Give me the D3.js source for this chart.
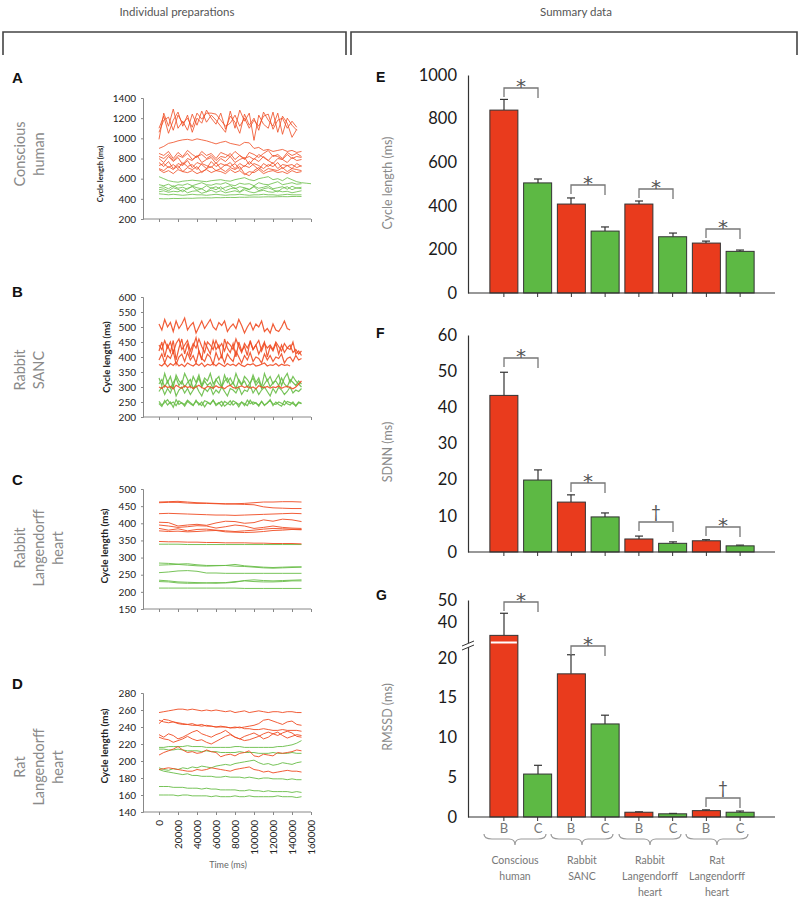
<!DOCTYPE html>
<html>
<head>
<meta charset="utf-8">
<script src="https://cdn.jsdelivr.net/npm/d3@7"></script>
<style>
  body { margin: 0; background: #fff; }
  svg { display: block; font-family: Lato, 'Open Sans', sans-serif; }
</style>
</head>
<body>
<div id="canvas"></div>
<script>
// ---------- individual preparations (cycle length traces, ms) ----------
var tA = [0,5000,10000,15000,20000,25000,30000,35000,40000,45000,50000,55000,60000,65000,70000,75000,80000,85000,90000,95000,100000,105000,110000,115000,120000,125000,130000,135000,140000,145000,150000,155000,160000]
var tB = [0,3000,6000,9000,12000,15000,18000,21000,24000,27000,30000,33000,36000,39000,42000,45000,48000,51000,54000,57000,60000,63000,66000,69000,72000,75000,78000,81000,84000,87000,90000,93000,96000,99000,102000,105000,108000,111000,114000,117000,120000,123000,126000,129000,132000,135000,138000,141000,144000,147000,150000]
var tC = [0,10000,20000,30000,40000,50000,60000,70000,80000,90000,100000,110000,120000,130000,140000,150000]
var tD = tA

var aRed = [
  [990,1250,1120,1290,1100,1170,1080,1240,1130,1270,1160,1230,1180,1120,1060,1270,1100,1280,1170,1250,980,1230,1140,1100,1260,1060,1220,1150,1010,1090],
  [1060,1180,1210,1080,1230,1150,1200,1110,1250,1190,1250,1250,1240,1180,1120,1150,1230,1120,1200,1100,1180,1120,1220,1240,1090,1180,1200,1100,1170,1110],
  [1100,1220,1050,1180,1260,1120,1230,1060,1200,1150,1280,1200,1140,1250,1090,1220,1160,1050,1240,1130,1200,1080,1260,1180,1120,1250,1040,1200,1130,1080],
  [900,920,950,960,975,985,990,980,995,985,975,960,945,960,970,950,940,930,960,955,900,910,880,890,870,880,890,870,880,860,870],
  [850,830,870,800,860,820,880,840,810,870,830,850,800,860,840,820,870,830,790,860,840,810,850,880,820,840,800,860,830,850,820],
  [820,800,840,780,830,810,850,790,820,840,800,830,780,820,810,850,790,830,800,820,790,840,810,780,830,820,790,840,800,820,810],
  [800,760,820,770,810,740,800,780,830,760,790,810,750,800,770,820,760,790,810,740,800,770,820,780,750,800,790,760,810,780,790],
  [760,720,770,700,750,730,780,710,760,740,700,770,720,750,730,760,700,750,720,770,730,690,750,720,760,700,740,730,700,750,720],
  [730,750,710,740,700,760,720,740,690,750,730,710,760,700,740,720,750,690,730,710,750,730,700,740,720,760,700,730,740,710,730],
  [700,680,720,690,730,670,710,690,720,660,700,720,680,700,670,710,690,720,650,630,680,710,670,700,690,680,710,670,700,690,680],
  [690,660,680,650,690,670,660,680,650,670,690,660,680,670,650,690,660,680,640,670,660,690,650,670,680,660,670,650,680,660,670]
]
var aGreen = [
  [620,600,580,570,565,575,580,585,580,575,570,580,585,590,580,575,590,600,610,590,580,600,610,620,590,600,580,610,590,570,560,555,550],
  [540,530,545,520,540,535,550,530,545,560,540,535,550,545,560,540,530,555,545,550,530,560,545,540,555,570,540,550,560,545,550],
  [510,520,500,530,505,515,495,525,510,500,530,505,520,495,515,530,500,520,510,495,525,505,515,530,500,510,520,495,525,505,515],
  [490,500,480,510,495,470,505,520,485,500,470,510,490,520,480,500,510,470,505,490,520,480,500,510,490,470,505,520,490,510,500],
  [470,480,465,475,470,490,460,475,480,455,470,485,465,480,460,470,480,465,490,470,460,475,485,470,465,480,470,475,460,470,480],
  [450,445,440,445,440,435,440,445,440,440,435,440,445,440,435,440,440,445,440,435,440,440,445,440,440,435,440,445,440,440,440],
  [402,400,401,404,403,405,406,405,408,409,410,409,412,411,413,414,413,416,415,417,418,417,419,420,419,421,422,421,423,424,423]
]

var bRed = [
  [510,490,525,500,515,485,520,495,510,530,490,505,515,480,500,520,495,510,525,500,490,515,505,520,485,500,510,495,525,505,480,500,515,490,510,500,520,485,495,480,510,490,485,500,520,495,490],
  [420,450,400,440,415,455,390,430,460,410,445,400,435,465,420,390,450,430,410,455,425,440,395,460,430,415,445,400,450,420,435,405,455,425,440,410,430,450,400,435,420,445,410,440,415,430,425,450,410,420,405],
  [440,425,455,430,450,415,445,460,425,440,455,420,445,430,460,435,415,450,440,425,455,430,445,420,450,440,425,460,435,415,445,430,450,425,440,455,420,445,430,440,425,450,435,420,445,430,440,415,425,410,420],
  [390,410,380,405,395,420,375,400,410,385,415,390,405,380,420,395,385,410,400,375,415,390,405,380,410,395,385,420,400,380,405,390,415,385,400,395,380,410,390,405,385,400,395,410,380,395,400,385,405,390,395],
  [375,370,380,368,378,372,382,370,376,368,380,374,370,378,372,380,368,376,372,378,370,380,374,368,378,372,376,370,380,372,368,376,374,378,370,372,376,380,370,374,372,378,370,376,372,374,370],
  [300,295,305,298,302,294,306,300,296,304,298,302,295,300,306,298,294,302,300,296,304,298,300,294,302,306,298,296,300,304,298,302,296,300,294,304,300,298,302,296,300,298,304,296,300,302,298,294,300,310,320]
]
var bGreen = [
  [330,305,345,315,335,300,340,320,310,345,325,300,335,315,340,305,330,320,345,310,325,335,300,340,315,330,310,345,320,305,335,325,310,340,315,330,300,345,320,335,310,325,340,305,330,345,315,335,320,310,300],
  [310,325,300,320,295,315,330,305,320,300,315,325,295,310,330,300,320,305,315,295,325,310,300,320,330,305,315,295,325,310,320,300,315,330,305,320,295,310,325,300,315,320,305,330,310,300,325,315,305,320,310],
  [285,300,275,295,280,305,270,290,300,280,295,275,290,305,285,270,295,285,300,275,290,280,300,285,270,295,290,280,300,275,290,285,305,280,295,275,290,300,285,270,295,280,300,290,275,285,300,280,290,285,295],
  [245,235,255,240,250,232,258,242,248,236,252,244,238,256,240,250,234,248,242,256,238,246,252,236,244,254,240,248,234,250,244,238,256,242,248,236,252,240,246,258,238,250,242,236,254,244,240,250,236,248,244],
  [252,240,248,258,244,250,238,254,246,242,256,248,240,252,246,238,254,250,244,256,242,248,236,252,246,240,254,248,242,250,238,256,244,250,246,240,252,238,248,254,244,242,250,246,240,252,248,244,238,250,246]
]

var cRed = [
  [462,463,464,462,460,459,458,457,457,458,460,462,462,463,463,462],
  [460,461,461,459,458,458,457,456,456,455,454,448,445,444,443,443],
  [428,429,428,427,426,425,424,424,423,424,425,426,427,428,429,428],
  [403,402,392,395,397,394,401,406,405,400,402,410,406,412,410,405],
  [395,392,388,390,393,392,386,390,395,392,385,388,392,388,386,385],
  [385,380,384,378,382,383,380,378,376,378,380,383,385,384,383,382],
  [378,376,377,375,376,378,379,375,374,373,374,376,379,380,382,381],
  [347,346,346,345,345,344,344,343,343,343,342,342,341,341,341,340]
]
var cGreen = [
  [339,339,339,338,338,338,338,338,338,338,338,338,338,338,338,338],
  [284,283,281,282,279,277,277,277,280,276,274,272,271,272,273,273],
  [278,279,280,278,276,275,276,277,275,274,272,270,269,270,271,272],
  [256,258,261,262,260,255,255,254,254,254,254,254,254,254,254,254],
  [234,232,229,228,227,226,227,226,228,233,235,233,232,233,234,235],
  [230,229,226,225,225,226,225,227,230,232,230,229,229,230,232,232],
  [211,211,211,211,211,211,211,211,211,210,210,210,210,210,210,210]
]

var dRed = [
  [257,258,259,260,261,261,260,261,260,259,260,259,260,259,258,259,257,258,259,257,258,259,258,257,258,258,257,258,258,257,257],
  [248,246,245,246,244,243,243,242,242,243,241,241,240,240,240,239,239,240,238,238,237,237,238,237,236,236,237,236,236,236,235],
  [244,249,248,246,245,244,243,244,242,241,242,241,240,241,240,239,240,239,240,241,242,244,248,249,247,245,243,246,247,243,242],
  [231,228,232,230,226,228,231,234,236,232,230,228,231,233,236,232,228,226,229,231,233,230,226,228,232,234,230,227,229,231,230],
  [228,226,225,222,224,226,229,226,224,225,222,220,223,226,229,231,228,226,224,225,227,229,232,234,232,230,233,235,233,229,228],
  [207,210,212,214,217,213,210,211,209,210,213,211,210,205,207,208,206,209,210,212,206,205,208,207,206,210,209,210,211,213,212],
  [190,191,192,191,190,189,188,188,190,189,190,192,191,190,189,188,190,191,192,193,190,189,187,188,186,187,188,189,188,188,187]
]
var dGreen = [
  [216,216,217,217,217,217,218,217,217,217,216,216,216,216,216,216,217,217,216,216,216,216,216,216,216,217,217,218,219,221,224],
  [214,214,213,213,214,213,212,212,212,211,212,211,211,210,210,210,210,211,210,210,210,209,209,209,210,209,209,209,210,209,209],
  [192,190,189,191,190,192,191,193,192,194,193,192,194,195,196,195,197,198,199,200,201,198,196,197,195,196,198,197,196,198,199],
  [190,188,187,186,185,184,185,183,183,182,182,182,181,181,182,181,181,181,180,181,180,179,180,180,179,179,179,178,179,178,178],
  [170,170,170,169,169,169,168,168,168,167,168,167,167,166,166,166,166,165,165,166,165,165,164,165,164,164,164,164,163,164,163],
  [160,160,160,160,159,160,160,159,159,159,159,158,159,158,158,158,159,158,158,159,158,158,158,158,158,159,158,158,158,157,158]
]

var timeTicks = [0,20000,40000,60000,80000,100000,120000,140000,160000]
var ticksA = [200,400,600,800,1000,1200,1400]
var ticksB = [200,250,300,350,400,450,500,550,600]
var ticksC = [150,200,250,300,350,400,450,500]
var ticksD = [140,160,180,200,220,240,260,280]

// ---------- summary data ----------
var conditions = ['B','C','B','C','B','C','B','C']
var groupNames = [['Conscious','human'],['Rabbit','SANC'],['Rabbit','Langendorff','heart'],['Rat','Langendorff','heart']]
var clMean = [839,505,408,284,408,258,229,191]
var clSem = [49,18,28,19,14,17,9,6]
var sdnnMean = [43.3,19.9,13.8,9.7,3.6,2.4,3.1,1.7]
var sdnnSem = [6.4,2.8,2.0,1.1,0.8,0.4,0.3,0.2]
var rmssdMean = [34,5.4,18.0,11.7,0.6,0.4,0.8,0.6]
var rmssdSem = [10,1.1,2.4,1.1,0.05,0.05,0.1,0.15]
var clSig = [[0,1,'*',940],[2,3,'*',495],[4,5,'*',477],[6,7,'*',294]]
var sdnnSig = [[0,1,'*',53.6],[2,3,'*',19.1],[4,5,'\u2020',8.3],[6,7,'*',6.9]]
var rmssdSig = [[0,1,'*',49.1],[2,3,'*',21.7],[6,7,'\u2020',2.4]]
var ticksE = [0,200,400,600,800,1000]
var ticksF = [0,10,20,30,40,50,60]
var ticksG = [0,5,10,15,20,40,50]

;(function () {
  var RED = '#ef4b22', GREEN = '#68bd47'
  var BAR_RED = '#e93b1d', BAR_GREEN = '#5db944'
  var fmt = d3.format('d')

  var svg = d3.select('#canvas').append('svg')
    .attr('width', 800).attr('height', 900)

  // header
  svg.append('text').text('Individual preparations').attr('x', 177).attr('y', 16)
    .attr('text-anchor', 'middle').attr('font-size', '11.5px').attr('fill', '#555')
  svg.append('text').text('Summary data').attr('x', 576).attr('y', 16)
    .attr('text-anchor', 'middle').attr('font-size', '11.5px').attr('fill', '#555')
  var bracket = function (x1, x2) {
    svg.append('path').attr('d', 'M' + x1 + ',55V32H' + x2 + 'V55')
      .attr('fill', 'none').attr('stroke', '#444').attr('stroke-width', 1.6)
  }
  bracket(3, 346)
  bracket(351, 797)

  var letter = function (t, x, y, size) {
    svg.append('text').text(t).attr('x', x).attr('y', y)
      .attr('font-family', 'Liberation Sans, Arial, sans-serif')
      .attr('font-weight', 'bold').attr('font-size', size).attr('fill', '#111')
  }

  // ---------- left panels ----------
  var xL = d3.scaleLinear().domain([0, 160000]).range([159, 311])
  var AXIS_X = 143

  var leftPanels = [
    {letter: 'A', letterY: 83, rows: ['Conscious', 'human'], rowY: 154, dom: [200, 1400], rng: [219, 98], ticks: ticksA,
      times: tA, red: aRed, green: aGreen, labX: 103, labY: 174, labSize: 7.5, width: 0.9},
    {letter: 'B', letterY: 297, rows: ['Rabbit', 'SANC'], rowY: 370, dom: [200, 600], rng: [417, 297], ticks: ticksB,
      times: tB, red: bRed, green: bGreen, labX: 110, labY: 357, labSize: 9.5, width: 1.2},
    {letter: 'C', letterY: 485, rows: ['Rabbit', 'Langendorff', 'heart'], rowY: 548, dom: [150, 500], rng: [609, 489], ticks: ticksC,
      times: tC, red: cRed, green: cGreen, labX: 108, labY: 546, labSize: 10, width: 1},
    {letter: 'D', letterY: 689, rows: ['Rat', 'Langendorff', 'heart'], rowY: 767, dom: [140, 280], rng: [812, 693], ticks: ticksD,
      times: tD, red: dRed, green: dGreen, labX: 108, labY: 746, labSize: 10, width: 1}
  ]

  leftPanels.forEach(function (p, k) {
    var y = d3.scaleLinear().domain(p.dom).range(p.rng)
    letter(p.letter, 12, p.letterY, '15px')

    p.rows.forEach(function (r, i) {
      svg.append('text').text(r)
        .attr('transform', 'translate(' + (25 + i * 19) + ',' + p.rowY + ') rotate(-90)')
        .attr('text-anchor', 'middle').attr('font-size', '14.5px').attr('fill', '#8a8a8a')
    })

    var g = svg.append('g')
    var line = function (vals) {
      return d3.line()
        .x(function (d, i) { return xL(p.times[i]) })
        .y(function (d) { return y(d) })(vals)
    }
    p.green.forEach(function (vals) {
      g.append('path').attr('d', line(vals)).attr('fill', 'none')
        .attr('stroke', GREEN).attr('stroke-width', p.width).attr('stroke-opacity', 0.9)
    })
    p.red.forEach(function (vals) {
      g.append('path').attr('d', line(vals)).attr('fill', 'none')
        .attr('stroke', RED).attr('stroke-width', p.width).attr('stroke-opacity', 0.9)
    })

    // axes
    var yAx = svg.append('g').attr('transform', 'translate(' + AXIS_X + ',0)')
      .call(d3.axisLeft(y).tickValues(p.ticks).tickSize(2).tickPadding(5).tickFormat(fmt))
    yAx.select('.domain').attr('stroke', '#888')
    yAx.selectAll('.tick line').attr('stroke', '#888')
    yAx.selectAll('text').attr('font-size', '10px').attr('fill', '#222')
      .attr('font-family', 'Lato, sans-serif')

    var xAx = svg.append('g').attr('transform', 'translate(0,' + p.rng[0] + ')')
      .call(d3.axisBottom(xL).tickValues(timeTicks).tickSize(3).tickFormat(''))
    xAx.select('.domain').attr('d', 'M' + AXIS_X + ',0H311').attr('stroke', '#888')
    xAx.selectAll('.tick line').attr('stroke', '#888')

    if (k === 3) {
      xAx.selectAll('.tick').append('text').text(function (d) { return fmt(d) })
        .attr('transform', 'translate(0,8) rotate(-90)')
        .attr('text-anchor', 'end').attr('dy', '0.35em')
        .attr('font-size', '10px').attr('fill', '#222').attr('font-family', 'Lato, sans-serif')
      svg.append('text').text('Time (ms)').attr('x', 228).attr('y', 868)
        .attr('text-anchor', 'middle').attr('font-size', '9px').attr('fill', '#666')
    }

    svg.append('text').text('Cycle length (ms)')
      .attr('transform', 'translate(' + p.labX + ',' + p.labY + ') rotate(-90)')
      .attr('text-anchor', 'middle').attr('font-size', p.labSize + 'px')
      .attr('font-weight', 'bold').attr('fill', '#222')
  })

  // ---------- right panels ----------
  var xB = d3.scaleBand().domain(d3.range(8)).range([487, 757])
    .paddingInner(0.17).paddingOuter(0.085)
  var cx = function (i) { return Math.round(xB(i) + xB.bandwidth() / 2) }

  var rightPanels = [
    {letter: 'E', letterY: 82, label: 'Cycle length (ms)', labY: 183,
      y: d3.scaleLinear().domain([0, 1000]).range([293, 75]), ticks: ticksE,
      mean: clMean, sem: clSem, sig: clSig},
    {letter: 'F', letterY: 338, label: 'SDNN (ms)', labY: 452,
      y: d3.scaleLinear().domain([0, 60]).range([552, 335]), ticks: ticksF,
      mean: sdnnMean, sem: sdnnSem, sig: sdnnSig},
    {letter: 'G', letterY: 600, label: 'RMSSD (ms)', labY: 717,
      y: d3.scaleLinear().domain([0, 21.5, 31, 50]).range([817, 646, 642, 600]), ticks: ticksG,
      mean: rmssdMean, sem: rmssdSem, sig: rmssdSig}
  ]

  rightPanels.forEach(function (p, k) {
    var y = p.y
    var y0 = y(0)
    letter(p.letter, 376, p.letterY, '14px')

    svg.append('text').text(p.label)
      .attr('transform', 'translate(392,' + p.labY + ') rotate(-90)')
      .attr('text-anchor', 'middle').attr('font-size', '12.5px').attr('fill', '#8a8a8a')

    var g = svg.append('g')
    // error bars (upper only)
    p.mean.forEach(function (m, i) {
      var top = y(m + p.sem[i])
      g.append('line').attr('x1', cx(i)).attr('x2', cx(i)).attr('y1', y(m)).attr('y2', top)
        .attr('stroke', '#333').attr('stroke-width', 1.2)
      g.append('line').attr('x1', cx(i) - 4).attr('x2', cx(i) + 4).attr('y1', top).attr('y2', top)
        .attr('stroke', '#333').attr('stroke-width', 1.2)
    })
    g.selectAll('rect.bar').data(p.mean).enter().append('rect')
      .attr('x', function (d, i) { return xB(i) })
      .attr('y', function (d) { return y(d) })
      .attr('width', xB.bandwidth())
      .attr('height', function (d) { return y0 - y(d) })
      .attr('fill', function (d, i) { return i % 2 === 0 ? BAR_RED : BAR_GREEN })
      .attr('stroke', '#333').attr('stroke-width', 1)

    // significance brackets
    p.sig.forEach(function (s) {
      var ly = Math.round(y(s[3]))
      var x1 = cx(s[0]), x2 = cx(s[1])
      g.append('path').attr('d', 'M' + x1 + ',' + (ly + 9) + 'V' + ly + 'H' + x2 + 'V' + (ly + 10))
        .attr('fill', 'none').attr('stroke', '#777').attr('stroke-width', 1.3)
      var star = s[2] === '*'
      g.append('text').text(s[2]).attr('x', (x1 + x2) / 2).attr('y', star ? ly + 5 : ly - 4)
        .attr('text-anchor', 'middle')
        .attr('font-family', star ? 'DejaVu Sans, sans-serif' : 'Lato, sans-serif')
        .attr('font-size', star ? '20px' : '17px')
        .attr('fill', '#555')
    })

    // axes
    var yAx = svg.append('g').attr('transform', 'translate(468,0)')
      .call(d3.axisLeft(y).tickValues(p.ticks).tickSize(0).tickPadding(11).tickFormat(fmt))
    yAx.select('.domain').attr('stroke', '#333').attr('stroke-width', 1.2)
    yAx.selectAll('text').attr('font-size', '16.5px').attr('fill', '#1a1a1a')
      .attr('font-family', 'Lato, sans-serif')

    var xAx = svg.append('g').attr('transform', 'translate(0,' + y0 + ')')
      .call(d3.axisBottom(xB).tickSize(4).tickFormat(''))
    xAx.select('.domain').attr('d', 'M468,0H775').attr('stroke', '#333').attr('stroke-width', 1.2)
    xAx.selectAll('.tick line').attr('stroke', '#333')

    if (k === 2) {
      // axis break
      var yb = 645
      svg.append('rect').attr('x', 462).attr('y', yb - 2).attr('width', 12).attr('height', 4).attr('fill', '#fff')
      svg.append('path').attr('d', 'M462,' + (yb + 1) + 'L474,' + (yb - 4) + 'M462,' + (yb + 5) + 'L474,' + yb)
        .attr('stroke', '#333').attr('stroke-width', 1)
      svg.append('rect').attr('x', xB(0) + 1).attr('y', 641.5).attr('width', xB.bandwidth() - 2)
        .attr('height', 2).attr('fill', '#fff')

      // condition labels
      conditions.forEach(function (c, i) {
        svg.append('text').text(c).attr('x', cx(i)).attr('y', 833)
          .attr('text-anchor', 'middle').attr('font-size', '13px').attr('fill', '#777')
      })
      // group braces and names
      groupNames.forEach(function (lines, j) {
        var mid = (cx(2 * j) + cx(2 * j + 1)) / 2 - 6
        var a = mid - 31, b = mid + 31, t = 834
        svg.append('path')
          .attr('d', 'M' + a + ',' + t + 'Q' + a + ',' + (t + 5) + ' ' + (a + 8) + ',' + (t + 5) +
            'L' + (mid - 6) + ',' + (t + 5) + 'Q' + mid + ',' + (t + 5) + ' ' + mid + ',' + (t + 11) +
            'Q' + mid + ',' + (t + 5) + ' ' + (mid + 6) + ',' + (t + 5) +
            'L' + (b - 8) + ',' + (t + 5) + 'Q' + b + ',' + (t + 5) + ' ' + b + ',' + t)
          .attr('fill', 'none').attr('stroke', '#999').attr('stroke-width', 1.2)
        lines.forEach(function (l, n) {
          svg.append('text').text(l).attr('x', mid).attr('y', 864 + n * 16)
            .attr('text-anchor', 'middle').attr('font-size', '10.5px').attr('fill', '#777')
        })
      })
    }
  })
})()
</script>
</body>
</html>
